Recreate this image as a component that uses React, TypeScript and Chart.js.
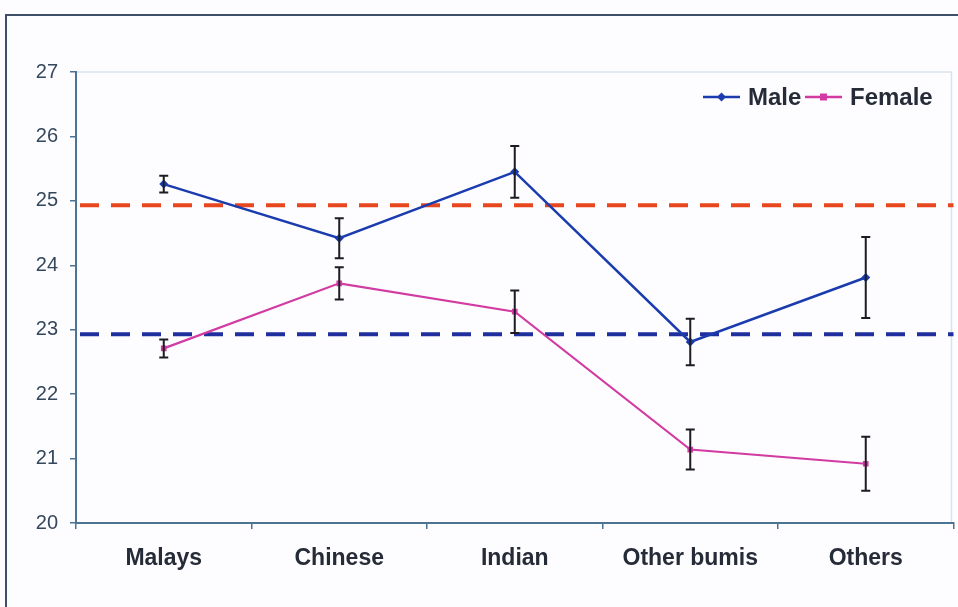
import React, { useEffect, useRef } from "react";
import { Chart, registerables } from "chart.js";

Chart.register(...registerables);

const categories = ["Malays", "Chinese", "Indian", "Other bumis", "Others"];
const maleMeans = [25.26, 24.42, 25.45, 22.81, 23.81];
const maleErr = [0.13, 0.31, 0.4, 0.36, 0.63];
const femaleMeans = [22.71, 23.72, 23.28, 21.14, 20.92];
const femaleErr = [0.14, 0.25, 0.33, 0.31, 0.42];
const refValues = [24.93, 22.93];
const refColors = ["#e8461e", "#1f2f9e"];
const yMin = 20;
const yMax = 27;

const AXIS = "#4d7393";
const MALE = "#1b3cae";
const FEMALE = "#d23ba2";

const plugin = {
  id: "custom",
  beforeDraw(chart: any) {
    const ctx = chart.ctx;
    ctx.save();
    ctx.fillStyle = "#fdfdff";
    ctx.fillRect(0, 0, chart.width, chart.height);
    ctx.strokeStyle = "#3e5068";
    ctx.lineWidth = 2;
    ctx.beginPath();
    ctx.moveTo(6, chart.height);
    ctx.lineTo(6, 15);
    ctx.lineTo(chart.width, 15);
    ctx.stroke();
    const a = chart.chartArea;
    ctx.strokeStyle = "#d6e3ec";
    ctx.lineWidth = 1.5;
    ctx.beginPath();
    ctx.moveTo(a.left, a.top);
    ctx.lineTo(a.right - 2, a.top);
    ctx.lineTo(a.right - 2, a.bottom);
    ctx.stroke();
    ctx.restore();
  },
  beforeDatasetsDraw(chart: any) {
    const ctx = chart.ctx;
    const a = chart.chartArea;
    const y = chart.scales.y;
    ctx.save();
    ctx.lineWidth = 4;
    ctx.setLineDash([19, 12]);
    refValues.forEach((v, i) => {
      const py = y.getPixelForValue(v);
      ctx.strokeStyle = refColors[i];
      ctx.beginPath();
      ctx.moveTo(a.left + 4, py);
      ctx.lineTo(a.right, py);
      ctx.stroke();
    });
    ctx.restore();
  },
  afterDatasetsDraw(chart: any) {
    const ctx = chart.ctx;
    const y = chart.scales.y;
    const errs = [maleErr, femaleErr];
    const means = [maleMeans, femaleMeans];
    ctx.save();
    ctx.strokeStyle = "#1c1c22";
    ctx.lineWidth = 2;
    [0, 1].forEach((d) => {
      const meta = chart.getDatasetMeta(d);
      meta.data.forEach((pt: any, i: number) => {
        const x = pt.x;
        const top = y.getPixelForValue(means[d][i] + errs[d][i]);
        const bot = y.getPixelForValue(means[d][i] - errs[d][i]);
        ctx.beginPath();
        ctx.moveTo(x, top);
        ctx.lineTo(x, bot);
        ctx.moveTo(x - 4.5, top);
        ctx.lineTo(x + 4.5, top);
        ctx.moveTo(x - 4.5, bot);
        ctx.lineTo(x + 4.5, bot);
        ctx.stroke();
      });
    });
    ctx.restore();
  },
  afterDraw(chart: any) {
    const ctx = chart.ctx;
    ctx.save();
    const cy = 97;
    const items = [
      { label: "Male", color: MALE, x: 703, style: "diamond" },
      { label: "Female", color: FEMALE, x: 805, style: "square" },
    ];
    ctx.font = "bold 24px 'Liberation Sans', Arial, sans-serif";
    ctx.textBaseline = "middle";
    items.forEach((it) => {
      ctx.strokeStyle = it.color;
      ctx.lineWidth = 2.5;
      ctx.beginPath();
      ctx.moveTo(it.x, cy);
      ctx.lineTo(it.x + 37, cy);
      ctx.stroke();
      ctx.fillStyle = it.color;
      const mx = it.x + 18.5;
      if (it.style === "diamond") {
        ctx.beginPath();
        ctx.moveTo(mx, cy - 4.5);
        ctx.lineTo(mx + 4.5, cy);
        ctx.lineTo(mx, cy + 4.5);
        ctx.lineTo(mx - 4.5, cy);
        ctx.closePath();
        ctx.fill();
      } else {
        ctx.fillRect(mx - 3.5, cy - 3.5, 7, 7);
      }
      ctx.fillStyle = "#262b38";
      ctx.fillText(it.label, it.x + 45, cy + 1);
    });
    ctx.restore();
  },
};

export default function App() {
  const ref = useRef<HTMLCanvasElement>(null);
  useEffect(() => {
    const chart = new Chart(ref.current as HTMLCanvasElement, {
      type: "line",
      data: {
        labels: categories,
        datasets: [
          {
            label: "Male",
            data: maleMeans,
            borderColor: MALE,
            backgroundColor: MALE,
            borderWidth: 2.5,
            pointStyle: "rectRot",
            pointRadius: 4.5,
            pointBorderWidth: 0,
            tension: 0,
          },
          {
            label: "Female",
            data: femaleMeans,
            borderColor: FEMALE,
            backgroundColor: FEMALE,
            borderWidth: 2.2,
            pointStyle: "rect",
            pointRadius: 4,
            pointBorderWidth: 0,
            tension: 0,
          },
        ],
      },
      options: {
        responsive: false,
        animation: false,
        layout: { padding: { left: 0, right: 0, top: 72, bottom: 0 } },
        plugins: {
          legend: { display: false },
          tooltip: { enabled: false },
          title: { display: false },
        },
        scales: {
          x: {
            type: "category",
            offset: true,
            afterFit: (s: any) => {
              s.height = 84;
            },
            grid: {
              offset: true,
              drawOnChartArea: false,
              drawTicks: true,
              tickLength: 6,
              color: AXIS,
              lineWidth: 1.5,
            },
            border: { color: AXIS, width: 2 },
            ticks: {
              padding: 16,
              color: "#262b38",
              font: { family: "'Liberation Sans', Arial, sans-serif", size: 23, weight: "bold" },
              maxRotation: 0,
            },
          },
          y: {
            min: yMin,
            max: yMax,
            afterFit: (s: any) => {
              s.width = 76;
            },
            grid: {
              drawOnChartArea: false,
              drawTicks: true,
              tickLength: 6,
              color: AXIS,
              lineWidth: 1.5,
            },
            border: { color: AXIS, width: 2 },
            ticks: {
              stepSize: 1,
              padding: 12,
              color: "#34475c",
              font: { family: "'Liberation Sans', Arial, sans-serif", size: 20 },
            },
          },
        },
      },
      plugins: [plugin],
    } as any);
    return () => chart.destroy();
  }, []);
  return (
    <div style={{ position: "absolute", left: 0, top: 0, width: 958, height: 607 }}>
      <canvas ref={ref} width={958} height={607} />
    </div>
  );
}
